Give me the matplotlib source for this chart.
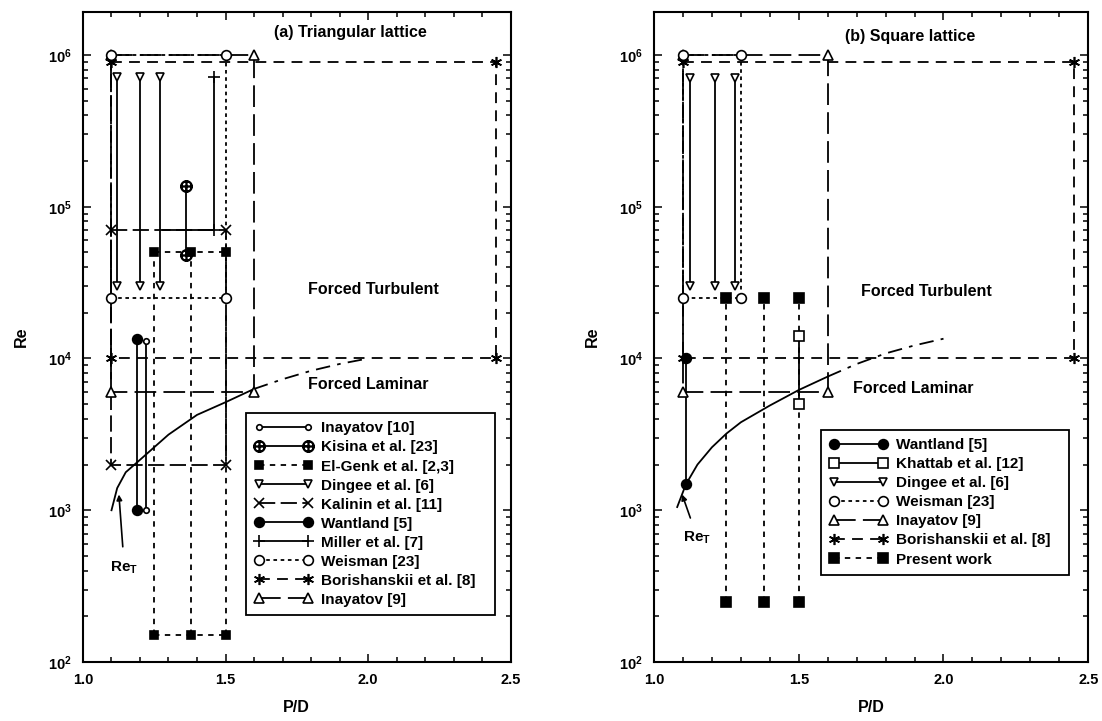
import matplotlib
matplotlib.use('Agg')
import matplotlib.pyplot as plt
from matplotlib.lines import Line2D
from matplotlib.ticker import MultipleLocator, LogLocator, LogFormatterMathtext, NullFormatter

plt.rcParams['font.family'] = ['Liberation Sans', 'DejaVu Sans']
plt.rcParams['font.weight'] = 'bold'
plt.rcParams['axes.labelweight'] = 'bold'
plt.rcParams['mathtext.fontset'] = 'custom'
plt.rcParams['mathtext.rm'] = 'Liberation Sans:bold'
plt.rcParams['mathtext.it'] = 'Liberation Sans:bold'
plt.rcParams['mathtext.bf'] = 'Liberation Sans:bold'

# ---------------- data: (a) triangular lattice ----------------
a_inay10_pd = [1.22, 1.22]
a_inay10_re = [1000, 13000]
a_kisina_pd = [1.36, 1.36]
a_kisina_re = [48000, 137000]
a_elgenk_pd = [1.25, 1.38, 1.50]
a_elgenk_re = [150, 50000]
a_dinges_pd = [1.12, 1.20, 1.27]
a_dinges_re = [30000, 720000]
a_kalinin_pd = [1.10, 1.50]
a_kalinin_re = [2000, 70000]
a_wantland_pd = [1.19, 1.19]
a_wantland_re = [1000, 13500]
a_miller_pd = [1.46, 1.46]
a_miller_re = [70000, 720000]
a_weisman_pd = [1.10, 1.50]
a_weisman_re = [25000, 1000000]
a_borish_pd = [1.10, 2.45]
a_borish_re = [10000, 900000]
a_inay9_pd = [1.10, 1.60]
a_inay9_re = [6000, 1000000]
a_ret_pd_solid = [1.10, 1.12, 1.15, 1.20, 1.30, 1.40, 1.50, 1.60]
a_ret_re_solid = [1000, 1400, 1780, 2150, 3150, 4250, 5150, 6300]
a_ret_pd_dash = [1.60, 1.70, 1.80, 1.90, 2.00]
a_ret_re_dash = [6300, 7300, 8300, 9200, 10000]

# ---------------- data: (b) square lattice ----------------
b_wantland_pd = [1.11, 1.11]
b_wantland_re = [1480, 10000]
b_khattab_pd = [1.50, 1.50]
b_khattab_re = [5000, 14000]
b_dinges_pd = [1.125, 1.21, 1.28]
b_dinges_re = [30000, 700000]
b_weisman_pd = [1.10, 1.30]
b_weisman_re = [25000, 1000000]
b_inay9_pd = [1.10, 1.60]
b_inay9_re = [6000, 1000000]
b_borish_pd = [1.10, 2.45]
b_borish_re = [10000, 900000]
b_present_pd = [1.25, 1.38, 1.50]
b_present_re = [250, 25000]
b_ret_pd_solid = [1.08, 1.11, 1.15, 1.20, 1.25, 1.30, 1.40, 1.50, 1.60]
b_ret_re_solid = [1050, 1480, 2000, 2600, 3200, 3800, 4900, 6200, 7600]
b_ret_pd_dash = [1.60, 1.70, 1.80, 1.90, 2.00]
b_ret_re_dash = [7600, 9200, 10800, 12200, 13500]

LW = 1.3
SOLID = '-'
DASH_SQ = (0, (3, 3))
LONG_X = (0, (9, 3))
DOT = (0, (2, 2))
DASH_AST = (0, (6, 4))
LONG_TRI = (0, (12, 4))
DASHDOT = (0, (8, 4, 2, 4))
AST = (6, 2, 0)
OPLUS = r'$\oplus$'

STY = {
    'inay10': dict(ls=SOLID, marker='o', ms=4, mfc='white'),
    'kisina': dict(ls=SOLID, marker=OPLUS, ms=8, mfc='k'),
    'elgenk': dict(ls=DASH_SQ, marker='s', ms=6, mfc='k'),
    'dinges': dict(ls=SOLID, marker='v', ms=6, mfc='white'),
    'kalinin': dict(ls=LONG_X, marker='x', ms=7, mfc='k'),
    'wantland': dict(ls=SOLID, marker='o', ms=7, mfc='k'),
    'miller': dict(ls=SOLID, marker='+', ms=8, mfc='k'),
    'weisman': dict(ls=DOT, marker='o', ms=7, mfc='white'),
    'borish': dict(ls=DASH_AST, marker=AST, ms=8, mfc='k'),
    'inay9': dict(ls=LONG_TRI, marker='^', ms=6.5, mfc='white'),
    'khattab': dict(ls=SOLID, marker='s', ms=6.5, mfc='white'),
    'present': dict(ls=DASH_SQ, marker='s', ms=6.5, mfc='k'),
}


def marks(ax, xs, ys, key):
    s = STY[key]
    ax.plot(xs, ys, ls='none', marker=s['marker'], ms=s['ms'], mfc=s['mfc'],
            mec='k', mew=1.2, color='k', zorder=5)


def rect(ax, pd, re, key):
    s = STY[key]
    ax.plot([pd[0], pd[1], pd[1], pd[0], pd[0]], [re[1], re[1], re[0], re[0], re[1]],
            color='k', ls=s['ls'], lw=LW, zorder=3)
    marks(ax, [pd[0], pd[1], pd[0], pd[1]], [re[0], re[0], re[1], re[1]], key)


def vlines(ax, pds, re, key, horiz=False):
    s = STY[key]
    for p in pds:
        ax.plot([p, p], re, color='k', ls=s['ls'], lw=LW, zorder=3)
        marks(ax, [p, p], re, key)
    if horiz:
        for r in re:
            ax.plot([pds[0], pds[-1]], [r, r], color='k', ls=s['ls'], lw=LW, zorder=3)


def handle(key, label):
    s = STY[key]
    return Line2D([0, 1], [0, 0], color='k', ls=s['ls'], lw=LW, marker=s['marker'],
                  ms=s['ms'], mfc=s['mfc'], mec='k', mew=1.2, label=label)


def setup(ax):
    ax.set_yscale('log')
    ax.set_xlim(1.0, 2.5)
    ax.set_ylim(100, 1.92e6)
    ax.xaxis.set_major_locator(MultipleLocator(0.5))
    ax.xaxis.set_minor_locator(MultipleLocator(0.1))
    ax.xaxis.set_major_formatter(matplotlib.ticker.FormatStrFormatter('%.1f'))
    ax.yaxis.set_major_locator(LogLocator(base=10, numticks=10))
    ax.yaxis.set_minor_locator(LogLocator(base=10, subs=range(2, 10), numticks=10))
    ax.yaxis.set_major_formatter(LogFormatterMathtext())
    ax.yaxis.set_minor_formatter(NullFormatter())
    ax.tick_params(which='both', direction='in', top=True, right=True, labelsize=10.5, width=1.1)
    ax.tick_params(which='major', length=6, pad=8)
    ax.tick_params(which='minor', length=3.5)
    for sp in ax.spines.values():
        sp.set_linewidth(1.5)
    ax.set_xlabel('P/D', fontsize=11.5, labelpad=9, fontweight='bold')
    ax.set_ylabel('Re', fontsize=11.5, labelpad=14, fontweight='bold')


def legend(ax, handles, anchor):
    leg = ax.legend(handles=handles, loc='lower left', bbox_to_anchor=anchor,
                    mode='expand', fontsize=11, numpoints=2, handlelength=3.8,
                    labelspacing=0.33, handletextpad=0.55, borderaxespad=0,
                    borderpad=0.55, fancybox=False, framealpha=1, edgecolor='k')
    leg.get_frame().set_linewidth(1.3)
    return leg


fig = plt.figure(figsize=(11.02, 7.21), dpi=100)
axA = fig.add_axes([0.0753, 0.0818, 0.388, 0.9016])
axB = fig.add_axes([0.5935, 0.0818, 0.394, 0.9016])

# ---- panel (a)
setup(axA)
rect(axA, a_borish_pd, a_borish_re, 'borish')
rect(axA, a_inay9_pd, a_inay9_re, 'inay9')
rect(axA, a_weisman_pd, a_weisman_re, 'weisman')
rect(axA, a_kalinin_pd, a_kalinin_re, 'kalinin')
vlines(axA, a_elgenk_pd, a_elgenk_re, 'elgenk', horiz=True)
vlines(axA, a_dinges_pd, a_dinges_re, 'dinges')
vlines(axA, a_miller_pd[:1], a_miller_re, 'miller')
axA.plot([1.28, a_miller_pd[0]], [a_miller_re[0], a_miller_re[0]], color='k', lw=LW, zorder=3)
vlines(axA, a_kisina_pd[:1], a_kisina_re, 'kisina')
vlines(axA, a_wantland_pd[:1], a_wantland_re, 'wantland')
vlines(axA, a_inay10_pd[:1], a_inay10_re, 'inay10')
axA.plot(a_ret_pd_solid, a_ret_re_solid, color='k', lw=LW, zorder=4)
axA.plot(a_ret_pd_dash, a_ret_re_dash, color='k', lw=LW, ls=DASHDOT, zorder=4)

axA.text(0.626, 0.968, '(a) Triangular lattice', transform=axA.transAxes,
         ha='center', va='center', fontsize=11.5)
axA.text(2.02, 28500, 'Forced Turbulent', ha='center', va='center', fontsize=11.5)
axA.text(2.0, 6700, 'Forced Laminar', ha='center', va='center', fontsize=11.5)
axA.annotate(r'Re$_{\mathrm{T}}$', xy=(1.126, 1270), xytext=(1.145, 420),
             ha='center', va='center', fontsize=11,
             arrowprops=dict(arrowstyle='-|>', color='k', lw=1.2, mutation_scale=8,
                             shrinkA=7, shrinkB=0))

hA = [handle('inay10', 'Inayatov [10]'), handle('kisina', 'Kisina et al. [23]'),
      handle('elgenk', 'El-Genk et al. [2,3]'), handle('dinges', 'Dingee et al. [6]'),
      handle('kalinin', 'Kalinin et al. [11]'), handle('wantland', 'Wantland [5]'),
      handle('miller', 'Miller et al. [7]'), handle('weisman', 'Weisman [23]'),
      handle('borish', 'Borishanskii et al. [8]'), handle('inay9', 'Inayatov [9]')]
legend(axA, hA, (0.381, 0.072, 0.582, 0.316))

# ---- panel (b)
setup(axB)
rect(axB, b_borish_pd, b_borish_re, 'borish')
rect(axB, b_inay9_pd, b_inay9_re, 'inay9')
rect(axB, b_weisman_pd, b_weisman_re, 'weisman')
vlines(axB, b_present_pd, b_present_re, 'present')
vlines(axB, b_dinges_pd, b_dinges_re, 'dinges')
vlines(axB, b_khattab_pd[:1], b_khattab_re, 'khattab')
vlines(axB, b_wantland_pd[:1], b_wantland_re, 'wantland')
axB.plot(b_ret_pd_solid, b_ret_re_solid, color='k', lw=LW, zorder=4)
axB.plot(b_ret_pd_dash, b_ret_re_dash, color='k', lw=LW, ls=DASHDOT, zorder=4)

axB.text(0.59, 0.962, '(b) Square lattice', transform=axB.transAxes,
         ha='center', va='center', fontsize=11.5)
axB.text(1.94, 27500, 'Forced Turbulent', ha='center', va='center', fontsize=11.5)
axB.text(1.896, 6300, 'Forced Laminar', ha='center', va='center', fontsize=11.5)
axB.annotate(r'Re$_{\mathrm{T}}$', xy=(1.097, 1270), xytext=(1.15, 655),
             ha='center', va='center', fontsize=11,
             arrowprops=dict(arrowstyle='-|>', color='k', lw=1.2, mutation_scale=8,
                             shrinkA=7, shrinkB=0))

hB = [handle('wantland', 'Wantland [5]'), handle('khattab', 'Khattab et al. [12]'),
      handle('dinges', 'Dingee et al. [6]'), handle('weisman', 'Weisman [23]'),
      handle('inay9', 'Inayatov [9]'), handle('borish', 'Borishanskii et al. [8]'),
      handle('present', 'Present work')]
legend(axB, hB, (0.385, 0.134, 0.571, 0.223))

fig.savefig('out.png', dpi=100, facecolor='white')
